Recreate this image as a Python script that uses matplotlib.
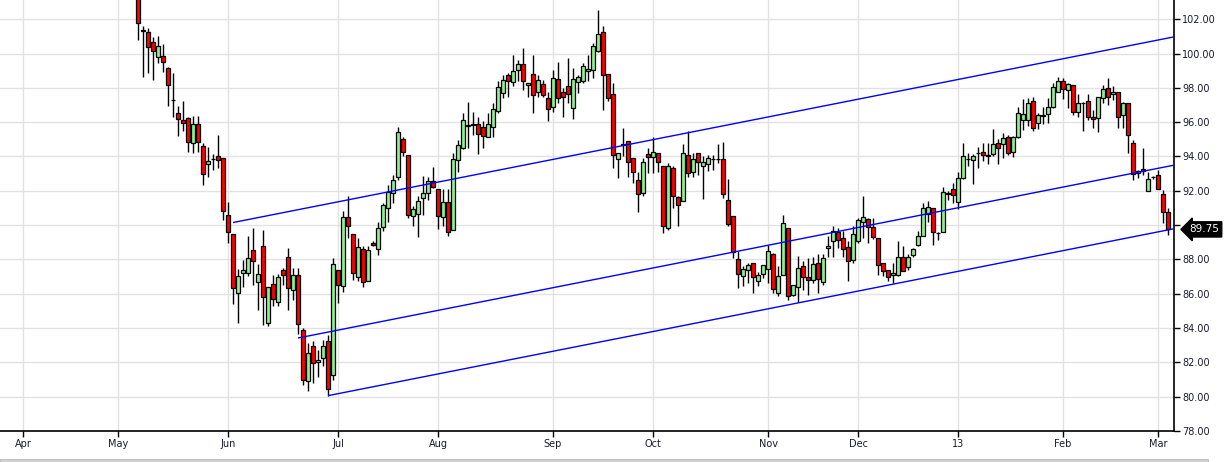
import numpy as np
import matplotlib
matplotlib.use("Agg")
import matplotlib.pyplot as plt
from matplotlib.patches import Rectangle

# daily OHLC, one bar per trading day (May 2012 -> Mar 2013)
opens = [103.6, 101.36, 101.28, 100.7, 99.79, 99.83, 99.15, 97.32, 96.52, 96.1,
         96.23, 94.78, 95.88, 94.62, 93.55, 93.88, 94.0, 93.9, 90.58, 89.47,
         86.04, 87.2, 87.2, 88.56, 86.66, 88.76, 84.29, 86.56, 85.5, 87.36,
         88.14, 86.23, 87.09, 83.9, 80.89, 82.93, 82.02, 82.25, 83.22, 81.26,
         87.36, 86.47, 90.47, 89.47, 86.97, 88.6, 86.72, 88.95, 88.6, 89.88,
         90.99, 91.9, 92.8, 95.01, 94.08, 90.54, 90.64, 91.57, 91.86, 92.56,
         92.1, 90.5, 91.34, 89.73, 93.8, 94.48, 95.78, 95.85, 95.88, 95.7,
         95.12, 95.71, 96.66, 97.69, 98.72, 98.33, 99.05, 99.37, 98.15, 98.79,
         97.75, 98.21, 97.4, 96.87, 98.5, 97.75, 98.08, 96.81, 98.33, 98.41,
         98.99, 99.05, 100.15, 101.24, 98.79, 97.63, 93.84, 94.66, 94.93, 93.9,
         92.62, 91.86, 94.13, 93.96, 94.19, 93.42, 89.82, 93.32, 91.63, 91.42,
         94.08, 93.07, 94.19, 93.45, 93.57, 93.87, 93.85, 93.86, 91.46, 90.52,
         88.02, 87.01, 87.4, 87.82, 86.74, 87.14, 87.47, 88.31, 86.04, 87.1,
         89.82, 85.9, 86.39, 87.63, 86.97, 86.8, 87.79, 86.7, 88.66, 89.09,
         89.59, 89.24, 88.72, 87.94, 89.05, 90.21, 90.35, 89.88, 89.24, 87.79,
         87.36, 87.1, 87.1, 88.17, 87.55, 88.23, 88.83, 89.34, 90.66, 90.99,
         89.54, 89.57, 91.9, 92.1, 91.34, 92.74, 93.85, 93.77, 94.2, 94.25,
         94.06, 94.13, 94.77, 94.7, 95.13, 94.29, 95.13, 96.1, 96.13, 97.22,
         95.94, 96.36, 96.46, 96.91, 97.75, 98.37, 97.88, 98.17, 96.58, 97.14,
         97.24, 96.33, 96.23, 97.43, 98.02, 97.65, 97.78, 96.43, 97.11, 94.78,
         93.05, 93.26, 92.0, 92.8, 92.93, 91.8, 90.76]
highs = [103.9, 101.6, 101.48, 100.99, 101.03, 100.56, 99.24, 98.85, 96.95, 97.24,
         96.33, 96.37, 96.37, 94.78, 94.58, 94.16, 95.26, 93.9, 91.36, 89.47,
         87.44, 87.98, 89.38, 89.85, 87.73, 89.73, 86.39, 87.11, 87.16, 87.5,
         88.66, 87.5, 87.5, 84.0, 83.13, 83.22, 82.74, 83.32, 83.61, 88.08,
         87.36, 90.8, 91.67, 89.47, 89.24, 88.76, 88.76, 89.05, 90.21, 91.28,
         92.35, 92.93, 95.71, 95.16, 94.08, 91.12, 91.67, 92.87, 92.83, 93.36,
         92.1, 92.1, 92.1, 94.19, 94.97, 96.52, 97.2, 96.62, 96.33, 96.04,
         96.52, 97.1, 98.37, 98.75, 98.85, 99.92, 99.63, 100.35, 98.27, 99.92,
         98.72, 98.46, 97.78, 99.05, 99.53, 97.98, 99.76, 99.14, 98.75, 99.43,
         99.92, 100.64, 102.54, 101.63, 98.79, 98.27, 94.19, 95.65, 94.93, 93.9,
         93.12, 93.9, 94.48, 95.16, 94.19, 93.42, 93.61, 93.42, 91.67, 94.72,
         95.46, 94.19, 94.19, 94.0, 94.06, 94.1, 94.7, 94.83, 92.68, 90.52,
         88.47, 87.59, 87.78, 87.82, 87.28, 87.65, 88.85, 88.37, 87.59, 90.6,
         89.82, 86.52, 88.21, 87.88, 88.08, 88.12, 88.31, 88.31, 89.34, 89.96,
         89.82, 89.63, 89.05, 89.92, 90.41, 91.71, 90.41, 90.41, 89.24, 87.79,
         87.4, 87.79, 89.05, 88.76, 88.33, 88.66, 89.63, 91.28, 91.38, 90.99,
         89.59, 92.25, 91.96, 92.45, 93.07, 94.78, 94.19, 94.13, 94.58, 94.77,
         94.77, 95.59, 95.0, 95.36, 95.26, 95.2, 96.91, 97.34, 97.4, 97.49,
         96.52, 96.91, 97.4, 98.27, 98.66, 98.56, 98.27, 98.17, 97.65, 97.2,
         97.65, 96.72, 97.49, 98.17, 98.56, 98.08, 97.78, 97.16, 97.11, 94.97,
         93.22, 94.49, 93.12, 92.85, 93.22, 92.02, 91.0]
lows = [100.8, 98.66, 98.85, 98.47, 99.44, 98.9, 96.95, 96.33, 95.17, 95.46,
        94.29, 94.19, 94.29, 92.31, 92.83, 93.22, 93.32, 90.31, 88.95, 85.4,
        84.3, 86.39, 87.01, 86.52, 85.07, 84.19, 84.1, 85.26, 85.26, 86.52,
        85.07, 85.65, 83.65, 80.7, 80.31, 80.8, 81.14, 81.77, 80.06, 80.99,
        85.46, 86.08, 89.24, 86.78, 86.72, 86.39, 86.72, 88.8, 88.27, 89.63,
        90.21, 91.28, 92.6, 94.0, 90.41, 89.92, 89.3, 90.6, 91.47, 92.15,
        89.77, 89.92, 89.38, 89.73, 93.07, 94.43, 94.5, 95.26, 94.15, 94.48,
        95.12, 95.12, 96.52, 97.4, 97.45, 98.12, 98.37, 97.88, 97.49, 96.52,
        97.49, 97.45, 96.04, 96.62, 97.1, 96.33, 97.1, 96.17, 97.69, 98.27,
        98.41, 98.6, 100.08, 96.72, 97.24, 93.32, 92.74, 94.0, 92.83, 92.44,
        90.74, 91.67, 93.03, 93.03, 93.09, 89.53, 89.69, 90.99, 89.96, 91.38,
        92.8, 92.8, 92.93, 91.53, 93.13, 93.2, 93.6, 91.57, 89.96, 88.08,
        86.33, 86.43, 86.62, 86.04, 86.48, 86.91, 86.62, 86.04, 85.84, 87.1,
        85.65, 85.84, 85.5, 86.23, 85.94, 86.62, 86.04, 86.52, 88.17, 88.13,
        88.66, 88.17, 86.72, 87.79, 88.95, 89.24, 88.95, 89.2, 87.1, 87.01,
        86.72, 86.62, 87.06, 87.3, 87.4, 88.17, 88.76, 89.34, 90.21, 88.85,
        89.14, 89.57, 91.47, 91.28, 90.95, 92.68, 93.42, 92.4, 93.32, 93.71,
        93.57, 94.0, 93.57, 93.9, 94.1, 93.99, 95.07, 95.55, 95.75, 95.46,
        95.61, 95.88, 95.94, 96.81, 97.75, 97.34, 96.85, 96.43, 96.33, 95.46,
        96.1, 95.65, 95.4, 97.1, 97.01, 97.3, 95.65, 95.65, 94.23, 92.64,
        92.74, 92.93, 92.0, 92.7, 92.1, 90.12, 89.44]
closes = [101.8, 101.32, 100.37, 100.12, 100.41, 99.5, 98.14, 97.28, 96.17, 95.94,
          94.83, 95.88, 94.87, 92.97, 93.71, 93.86, 93.81, 90.85, 89.59, 86.33,
          87.05, 87.36, 88.08, 87.88, 87.15, 85.8, 86.39, 85.69, 86.97, 87.09,
          86.33, 87.09, 84.25, 81.0, 82.54, 81.96, 82.15, 82.93, 80.45, 87.73,
          86.5, 90.45, 89.96, 87.2, 88.72, 86.68, 88.56, 88.83, 89.82, 91.16,
          91.94, 92.64, 95.42, 94.25, 90.58, 90.93, 91.4, 91.86, 92.56, 92.21,
          90.54, 91.34, 89.59, 93.84, 94.64, 96.13, 95.84, 95.9, 95.3, 95.2,
          95.88, 96.75, 98.04, 98.44, 98.41, 98.97, 99.37, 98.41, 98.27, 97.59,
          98.44, 97.59, 96.75, 98.56, 97.43, 97.45, 97.63, 98.5, 98.62, 99.26,
          99.11, 100.43, 101.12, 98.74, 97.4, 94.1, 94.19, 94.7, 93.7, 93.12,
          91.8, 93.67, 93.96, 94.25, 93.67, 89.92, 93.47, 91.67, 91.15, 94.19,
          93.03, 93.84, 93.67, 93.67, 93.9, 93.86, 93.88, 91.8, 90.06, 88.41,
          87.14, 87.44, 87.67, 86.99, 87.08, 87.65, 88.5, 86.27, 87.05, 90.12,
          85.88, 86.52, 87.49, 86.97, 86.8, 87.73, 86.85, 88.08, 88.8, 89.63,
          89.14, 88.6, 87.92, 89.47, 90.27, 90.46, 89.88, 89.3, 87.69, 87.3,
          86.97, 87.2, 88.17, 87.3, 88.13, 88.6, 89.34, 90.99, 91.05, 89.59,
          89.52, 91.92, 91.82, 91.77, 92.74, 94.04, 93.87, 94.04, 94.19, 94.06,
          94.05, 94.74, 94.48, 95.07, 94.19, 95.16, 96.52, 96.46, 97.11, 95.65,
          96.39, 96.39, 96.87, 98.04, 98.37, 97.92, 98.21, 96.62, 97.11, 97.09,
          96.29, 96.17, 97.46, 97.92, 97.49, 97.74, 96.29, 97.11, 95.26, 92.97,
          93.15, 93.16, 92.68, 92.79, 92.1, 90.74, 89.75]

# month labels and the bar index where each month starts
month_labels = ["Apr", "May", "Jun", "Jul", "Aug", "Sep", "Oct", "Nov", "Dec", "13", "Feb", "Mar"]
month_bars = [-23, -4, 18, 40, 60, 83, 103, 126, 144, 164, 185, 204]

# parallel channel lines: start bar, start price, common slope per bar
chan_start_bar = [19, 32, 38]
chan_start_val = [90.15, 83.42, 80.06]
chan_slope = 0.0575

o = np.array(opens)
h = np.array(highs)
l = np.array(lows)
c = np.array(closes)
x = np.arange(len(o))

fig = plt.figure(figsize=(12.28, 4.62), dpi=100)
ax = fig.add_axes([0.0, 31 / 462, 1174 / 1228, 431 / 462])

x_min, x_max = -27.6, 207.2
ax.set_xlim(x_min, x_max)
ax.set_ylim(78, 103.12)

# candles
up = c >= o
body_col = np.where(up, "#90ee90", "#ff0000")
ax.vlines(x, l, h, color="black", lw=1.0, zorder=2)
bottoms = np.minimum(o, c)
heights = np.maximum(np.abs(c - o), 0.02)
ax.bar(x, heights, bottom=bottoms, width=0.72, color=body_col,
       edgecolor="black", linewidth=0.9, zorder=2.5)

# channel
for sb, sv in zip(chan_start_bar, chan_start_val):
    ax.plot([sb, x_max], [sv, sv + chan_slope * (x_max - sb)],
            color="#0000ff", lw=1.0, zorder=3, solid_capstyle="butt")

# axes styling; the 90.00 label sits under the last-price tag, so it is hidden
last = closes[-1]
yt = np.arange(78, 103, 2)
ax.yaxis.tick_right()
ax.set_yticks(yt)
ax.set_yticklabels(["" if abs(v - last) < 1 else f"{v:.2f}" for v in yt])
ax.set_xticks(month_bars)
ax.set_xticklabels(month_labels)
ax.tick_params(axis="both", direction="out", length=4, width=1,
               labelsize=7, labelcolor="#1a1a2e", pad=2)
ax.grid(True, color="#e2e2e2", lw=1.0, zorder=0)
ax.set_axisbelow(True)
for side in ("left", "top"):
    ax.spines[side].set_visible(False)
for side in ("right", "bottom"):
    ax.spines[side].set_linewidth(1.2)

# last price tag
ax.annotate(f"{last:.2f}", xy=(1.0, last), xycoords=ax.get_yaxis_transform(),
            xytext=(1.013, last), textcoords=ax.get_yaxis_transform(),
            ha="left", va="center", fontsize=7.5, color="white",
            bbox=dict(boxstyle="larrow,pad=0.25", fc="black", ec="black"),
            annotation_clip=False)

# scrollbar strip at the bottom
fig.patches.append(Rectangle((0, 0), 1208 / 1228, 3 / 462, transform=fig.transFigure,
                             facecolor="#d0d0d0", edgecolor="#b0b0b0", lw=0.5))

fig.savefig("out.png", dpi=100)
